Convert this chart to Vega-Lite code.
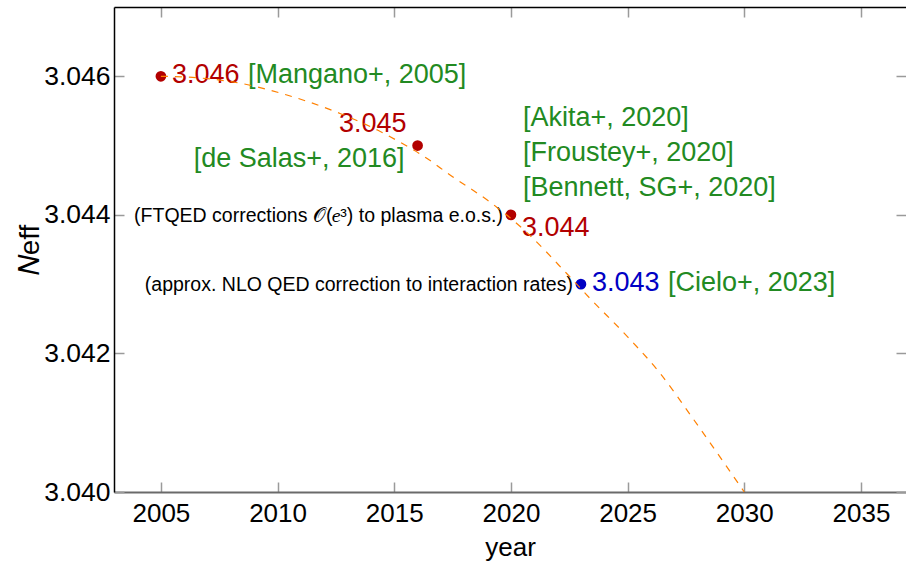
{
  "$schema": "https://vega.github.io/schema/vega-lite/v6.json",
  "width": 792,
  "height": 485,
  "autosize": "none",
  "padding": {"left": 114, "top": 7, "right": 0, "bottom": 69},
  "background": "white",
  "config": {
    "view": {"stroke": null},
    "font": "Liberation Sans",
    "text": {"font": "Liberation Sans"},
    "axis": {
      "grid": false,
      "labelFont": "Liberation Sans",
      "titleFont": "Liberation Sans",
      "labelColor": "black",
      "titleColor": "black",
      "titleFontWeight": "normal",
      "labelFlush": false,
      "labelOverlap": false,
      "tickColor": "#9a9a9a",
      "tickWidth": 1.5,
      "tickSize": -10
    }
  },
  "datasets": {
    "results": [
      {"year": 2005, "N": 3.046, "series": "earlier", "source": "[Mangano+, 2005]", "note": null},
      {"year": 2016, "N": 3.045, "series": "earlier", "source": "[de Salas+, 2016]", "note": null},
      {"year": 2020, "N": 3.044, "series": "earlier", "source": ["[Akita+, 2020]", "[Froustey+, 2020]", "[Bennett, SG+, 2020]"], "note": "(FTQED corrections 𝒪(𝑒³) to plasma e.o.s.)"},
      {"year": 2023, "N": 3.043, "series": "latest", "source": "[Cielo+, 2023]", "note": "(approx. NLO QED correction to interaction rates)"}
    ],
    "trend": [
      {"year": 2005.0, "N": 3.04600},
      {"year": 2006.5, "N": 3.04598},
      {"year": 2008.4, "N": 3.04590},
      {"year": 2010.4, "N": 3.04573},
      {"year": 2012.7, "N": 3.04546},
      {"year": 2014.3, "N": 3.04522},
      {"year": 2015.5, "N": 3.04500},
      {"year": 2016.2, "N": 3.04486},
      {"year": 2017.5, "N": 3.04455},
      {"year": 2019.0, "N": 3.04421},
      {"year": 2020.1, "N": 3.04392},
      {"year": 2020.7, "N": 3.04374},
      {"year": 2022.4, "N": 3.04315},
      {"year": 2023.4, "N": 3.04279},
      {"year": 2025.0, "N": 3.04224},
      {"year": 2026.4, "N": 3.04171},
      {"year": 2027.8, "N": 3.04106},
      {"year": 2030.0, "N": 3.04000}
    ]
  },
  "layer": [
    {
      "data": {"name": "results"},
      "transform": [{"filter": "datum.year == 2005 || datum.year == 2023"}],
      "mark": {"type": "text", "align": "left", "baseline": "middle", "dx": 11, "dy": -1, "fontSize": 27},
      "encoding": {
        "x": {"field": "year", "type": "quantitative", "scale": {"domain": [2002.99, 2036.93], "nice": false, "zero": false}, "axis": null},
        "y": {"field": "N", "type": "quantitative", "scale": {"domain": [3.04, 3.047], "nice": false, "zero": false}, "axis": null},
        "text": {"field": "N", "type": "quantitative", "format": ".3f"},
        "color": {"field": "series", "type": "nominal", "scale": {"domain": ["earlier", "latest"], "range": ["#b20000", "#0000c4"]}, "legend": null}
      }
    },
    {
      "data": {"name": "results"},
      "transform": [{"filter": "datum.year == 2016"}],
      "mark": {"type": "text", "align": "right", "baseline": "middle", "dx": -11, "dy": -22, "fontSize": 27},
      "encoding": {
        "x": {"field": "year", "type": "quantitative", "scale": {"domain": [2002.99, 2036.93], "nice": false, "zero": false}, "axis": null},
        "y": {"field": "N", "type": "quantitative", "scale": {"domain": [3.04, 3.047], "nice": false, "zero": false}, "axis": null},
        "text": {"field": "N", "type": "quantitative", "format": ".3f"},
        "color": {"field": "series", "type": "nominal", "legend": null}
      }
    },
    {
      "data": {"name": "results"},
      "transform": [{"filter": "datum.year == 2020"}],
      "mark": {"type": "text", "align": "left", "baseline": "middle", "dx": 11, "dy": 13, "fontSize": 27},
      "encoding": {
        "x": {"field": "year", "type": "quantitative", "scale": {"domain": [2002.99, 2036.93], "nice": false, "zero": false}, "axis": null},
        "y": {"field": "N", "type": "quantitative", "scale": {"domain": [3.04, 3.047], "nice": false, "zero": false}, "axis": null},
        "text": {"field": "N", "type": "quantitative", "format": ".3f"},
        "color": {"field": "series", "type": "nominal", "legend": null}
      }
    },
    {
      "data": {"name": "results"},
      "transform": [{"filter": "datum.year == 2005 || datum.year == 2023"}],
      "mark": {"type": "text", "align": "left", "baseline": "middle", "dx": 87, "dy": -1, "fontSize": 27, "color": "#228a22"},
      "encoding": {
        "x": {"field": "year", "type": "quantitative", "scale": {"domain": [2002.99, 2036.93], "nice": false, "zero": false}, "axis": null},
        "y": {"field": "N", "type": "quantitative", "scale": {"domain": [3.04, 3.047], "nice": false, "zero": false}, "axis": null},
        "text": {"field": "source"}
      }
    },
    {
      "data": {"name": "results"},
      "transform": [{"filter": "datum.year == 2016"}],
      "mark": {"type": "text", "align": "right", "baseline": "middle", "dx": -13, "dy": 13, "fontSize": 27, "color": "#228a22"},
      "encoding": {
        "x": {"field": "year", "type": "quantitative", "scale": {"domain": [2002.99, 2036.93], "nice": false, "zero": false}, "axis": null},
        "y": {"field": "N", "type": "quantitative", "scale": {"domain": [3.04, 3.047], "nice": false, "zero": false}, "axis": null},
        "text": {"field": "source"}
      }
    },
    {
      "data": {"name": "results"},
      "transform": [{"filter": "datum.year == 2020"}],
      "mark": {"type": "text", "align": "left", "baseline": "middle", "dx": 12, "dy": -97, "lineHeight": 35, "fontSize": 27, "color": "#228a22"},
      "encoding": {
        "x": {"field": "year", "type": "quantitative", "scale": {"domain": [2002.99, 2036.93], "nice": false, "zero": false}, "axis": null},
        "y": {"field": "N", "type": "quantitative", "scale": {"domain": [3.04, 3.047], "nice": false, "zero": false}, "axis": null},
        "text": {"field": "source"}
      }
    },
    {
      "data": {"name": "results"},
      "transform": [{"filter": "datum.note != null"}],
      "mark": {"type": "text", "align": "right", "baseline": "middle", "dx": -8, "dy": 1, "fontSize": 19.5, "color": "black"},
      "encoding": {
        "x": {"field": "year", "type": "quantitative", "scale": {"domain": [2002.99, 2036.93], "nice": false, "zero": false}, "axis": null},
        "y": {"field": "N", "type": "quantitative", "scale": {"domain": [3.04, 3.047], "nice": false, "zero": false}, "axis": null},
        "text": {"field": "note"}
      }
    },
    {
      "data": {"name": "results"},
      "mark": {"type": "circle", "size": 115, "opacity": 1},
      "encoding": {
        "x": {
          "field": "year", "type": "quantitative",
          "scale": {"domain": [2002.99, 2036.93], "nice": false, "zero": false},
          "axis": {
            "orient": "bottom", "title": "year", "values": [2005, 2010, 2015, 2020, 2025, 2030, 2035], "format": "d",
            "labelFontSize": 26, "titleFontSize": 26, "labelPadding": 18, "titlePadding": 8,
            "domainColor": "#6a6a6a", "domainWidth": 2
          }
        },
        "y": {
          "field": "N", "type": "quantitative",
          "scale": {"domain": [3.04, 3.047], "nice": false, "zero": false},
          "axis": {
            "orient": "left", "title": "𝑁eff", "values": [3.04, 3.042, 3.044, 3.046], "format": ".3f",
            "labelFontSize": 26.5, "titleFontSize": 28, "labelPadding": 14, "titlePadding": -1,
            "domainColor": "black", "domainWidth": 1.5
          }
        },
        "color": {"field": "series", "type": "nominal", "legend": null}
      }
    },
    {
      "data": {"name": "trend"},
      "mark": {"type": "line", "color": "#ff8000", "strokeWidth": 1.2, "strokeDash": [7, 7], "interpolate": "monotone"},
      "encoding": {
        "x": {
          "field": "year", "type": "quantitative",
          "scale": {"domain": [2002.99, 2036.93], "nice": false, "zero": false},
          "axis": {"orient": "top", "title": null, "labels": false, "values": [2005, 2010, 2015, 2020, 2025, 2030, 2035], "domainColor": "black", "domainWidth": 1.5}
        },
        "y": {
          "field": "N", "type": "quantitative",
          "scale": {"domain": [3.04, 3.047], "nice": false, "zero": false},
          "axis": {"orient": "right", "title": null, "labels": false, "values": [3.04, 3.042, 3.044, 3.046], "domain": false}
        }
      }
    }
  ],
  "resolve": {"axis": {"x": "independent", "y": "independent"}}
}
